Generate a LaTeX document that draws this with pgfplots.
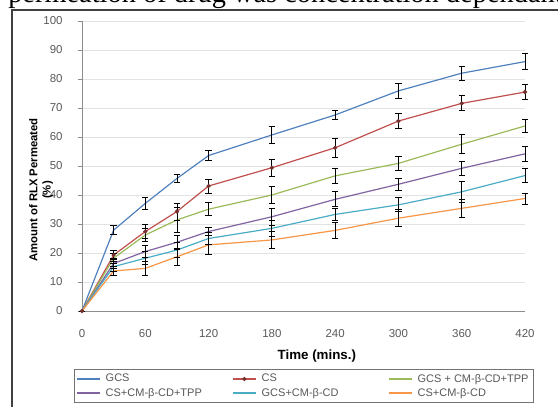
\documentclass[border=0pt]{standalone}
\usepackage{fontspec}
\setmainfont{Liberation Sans}
\newfontfamily\titlefont{Liberation Serif}
\usepackage{pgfplots}
\pgfplotsset{compat=1.18}
\definecolor{xlBlue}{HTML}{4F81BD}
\definecolor{xlRed}{HTML}{C0504D}
\definecolor{xlGreen}{HTML}{9BBB59}
\definecolor{xlPurple}{HTML}{8064A2}
\definecolor{xlAqua}{HTML}{4BACC6}
\definecolor{xlOrange}{HTML}{F79646}
\definecolor{tickgray}{HTML}{595959}
\definecolor{gridgray}{HTML}{E3E3E3}
\definecolor{axisgray}{HTML}{8C8C8C}

% time (min), % permeated, SD
\pgfplotstableread{
t y e
0 0 0
30 27.9 1.5
60 37.1 2.0
90 45.7 1.4
120 53.6 1.7
180 60.7 2.9
240 67.6 1.4
300 75.9 2.5
360 82.0 2.5
420 86.0 2.7
}\gcs
\pgfplotstableread{
t y e
0 0 0
30 19.3 1.5
60 27.4 2.5
90 34.3 2.9
120 43.1 2.4
180 49.4 2.9
240 56.3 3.2
300 65.5 2.5
360 71.6 2.6
420 75.5 2.6
}\cs
\pgfplotstableread{
t y e
0 0 0
30 18.2 1.8
60 26.2 2.2
90 31.4 4.4
120 35.1 2.3
180 40.0 3.0
240 46.6 2.7
300 50.9 2.5
360 57.5 3.3
420 63.8 2.2
}\gcstpp
\pgfplotstableread{
t y e
0 0 0
30 16.4 1.8
60 20.5 2.0
90 23.7 2.4
120 27.4 1.5
180 32.5 2.9
240 38.5 2.6
300 43.7 2.1
360 49.2 2.3
420 54.2 2.6
}\cstpp
\pgfplotstableread{
t y e
0 0 0
30 15.3 1.8
60 18.2 2.2
90 21.0 2.6
120 25.0 2.0
180 28.5 2.7
240 33.3 2.0
300 36.6 2.4
360 41.1 3.5
420 46.7 2.3
}\gcscd
\pgfplotstableread{
t y e
0 0 0
30 13.8 1.6
60 14.7 2.3
90 18.7 2.9
120 22.8 3.2
180 24.5 2.9
240 27.8 2.6
300 32.0 2.9
360 35.4 3.2
420 38.8 1.9
}\cscd

\pgfplotsset{
  sdbars/.style={forget plot, draw=none, mark=none,
    error bars/.cd, y dir=both, y explicit,
    error bar style={draw=black, line width=0.6pt},
    error mark options={draw=black, rotate=90, mark size=2.4pt, line width=0.6pt}},
}

\begin{document}
\begin{tikzpicture}[x=0.75pt, y=0.75pt]
\useasboundingbox (0,0) rectangle (558,407);
\begin{scope}
  \clip (0,0) rectangle (558,407);
  \node[anchor=base west, inner sep=0, font=\titlefont\fontsize{21.3}{25}\selectfont]
    at (8,404) {permeation of drug was concentration dependant};
  \draw[line width=1.3pt, black!75] (12,-10) -- (12,397) -- (580,397);
\end{scope}

\begin{axis}[
  at={(61.5pt,72pt)}, anchor=south west,
  scale only axis, width=332.25pt, height=217.5pt,
  xmin=0, xmax=420, ymin=0, ymax=100,
  clip=false,
  xtick={0,60,...,420}, ytick={0,10,...,100},
  axis x line*=bottom, axis y line*=left,
  axis line style={draw=axisgray, line width=0.6pt},
  ymajorgrids, grid style={draw=gridgray, line width=0.6pt},
  xtick style={draw=none},
  ytick style={draw=axisgray, line width=0.6pt},
  tick align=outside, major tick length=3pt,
  /pgf/number format/assume math mode=true,
  ticklabel style={font=\fontsize{8.6}{10}\selectfont, text=tickgray},
  yticklabel style={xshift=-8pt},
  xticklabel style={yshift=-7pt},
  xlabel={\bfseries Time (mins.)},
  xlabel style={font=\fontsize{10}{12}\selectfont, xshift=10pt, yshift=-3pt},
  ylabel={},
  legend columns=3,
  legend cell align=left,
  legend style={at={(-0.018,-0.2)}, anchor=north west,
    draw=black!55, line width=0.6pt, inner sep=1.5pt, row sep=-1pt,
    font=\fontsize{8.25}{9}\selectfont, text=tickgray,
    /tikz/every odd column/.append style={column sep=2pt},
    /tikz/every even column/.append style={column sep=1pt}},
  every axis plot/.append style={line width=0.9pt},
]
\addplot[xlBlue, mark=none] table[x=t, y=y] {\gcs};
\addlegendentry{\makebox[92pt][l]{GCS}}
\addplot[xlRed, mark=*, mark size=1.1pt, mark options={fill=xlRed!60!black, draw=xlRed!60!black}] table[x=t, y=y] {\cs};
\addlegendentry{\makebox[92pt][l]{CS}}
\addplot[xlGreen, mark=none] table[x=t, y=y] {\gcstpp};
\addlegendentry{GCS + CM-β-CD+TPP}
\addplot[xlPurple, mark=none] table[x=t, y=y] {\cstpp};
\addlegendentry{\makebox[92pt][l]{CS+CM-β-CD+TPP}}
\addplot[xlAqua, mark=none] table[x=t, y=y] {\gcscd};
\addlegendentry{\makebox[92pt][l]{GCS+CM-β-CD}}
\addplot[xlOrange, mark=none] table[x=t, y=y] {\cscd};
\addlegendentry{CS+CM-β-CD}

\addplot[sdbars] table[x=t, y=y, y error=e, skip first n=1] {\gcs};
\addplot[sdbars] table[x=t, y=y, y error=e, skip first n=1] {\cs};
\addplot[sdbars] table[x=t, y=y, y error=e, skip first n=1] {\gcstpp};
\addplot[sdbars] table[x=t, y=y, y error=e, skip first n=1] {\cstpp};
\addplot[sdbars] table[x=t, y=y, y error=e, skip first n=1] {\gcscd};
\addplot[sdbars] table[x=t, y=y, y error=e, skip first n=1] {\cscd};
\end{axis}

\node[rotate=90, align=center, inner sep=0,
  font=\bfseries\fontsize{8.5}{10}\selectfont]
  at (41,217) {Amount of RLX Permeated\\(\%)};
\end{tikzpicture}
\end{document}
